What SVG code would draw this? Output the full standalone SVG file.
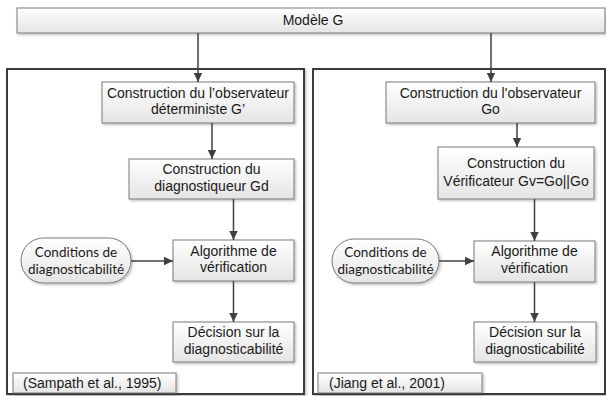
<svg xmlns="http://www.w3.org/2000/svg" width="606" height="396" viewBox="0 0 606 396">
<defs>
<linearGradient id="g" x1="0" y1="0" x2="0" y2="1">
<stop offset="0" stop-color="#ffffff"/>
<stop offset="1" stop-color="#e4e4e4"/>
</linearGradient>
<marker id="ah" markerWidth="10" markerHeight="10" refX="9" refY="5" orient="auto" markerUnits="userSpaceOnUse">
<path d="M0,0.8 L9,5 L0,9.2 Z" fill="#404040"/>
</marker>
<filter id="sh" x="-10%" y="-10%" width="130%" height="140%">
<feDropShadow dx="1.5" dy="1.5" stdDeviation="0.8" flood-color="#000" flood-opacity="0.25"/>
</filter>
</defs>
<style>
.box{fill:url(#g);stroke:#7a7a7a;stroke-width:1;filter:url(#sh)}
.panel{fill:#fff;stroke:#3a3a3a;stroke-width:2;filter:url(#sh)}
.t{font-family:"Liberation Sans",Arial,sans-serif;font-size:14px;fill:#1a1a1a;text-anchor:middle}
.tl{font-family:"Liberation Sans",Arial,sans-serif;font-size:14px;fill:#1a1a1a}
.c{font-family:Lato,"Open Sans",sans-serif;font-size:13.5px;fill:#1a1a1a;text-anchor:middle}
.conn line{stroke:#404040;stroke-width:1.5;marker-end:url(#ah)}
</style>
<g id="panel-left"><rect class="panel" x="7" y="69" width="297" height="325"/></g>
<g id="panel-right"><rect class="panel" x="313" y="69" width="292" height="325"/></g>
<g id="modele"><rect class="box" x="17" y="8" width="588" height="25"/><text class="t" x="313" y="25">Modèle G</text></g>

<g id="l1"><rect class="box" x="102" y="82" width="192" height="41"/><text class="t" x="198" y="97.5">Construction du l’observateur</text><text class="t" x="198" y="114">déterministe G’</text></g>
<g id="l2"><rect class="box" x="129" y="159" width="165" height="40"/><text class="t" x="211.5" y="174">Construction du</text><text class="t" x="211.5" y="191">diagnostiqueur Gd</text></g>
<g id="l3"><rect class="box" x="173" y="240" width="121" height="41"/><text class="t" x="233.5" y="255.5">Algorithme de</text><text class="t" x="233.5" y="272">vérification</text></g>
<g id="l4"><rect class="box" x="173" y="322" width="121" height="40"/><text class="t" x="233.5" y="337">Décision sur la</text><text class="t" x="233.5" y="354">diagnosticabilité</text></g>
<g id="lc"><rect class="box" x="21" y="238" width="110" height="45" rx="22.5"/><text class="c" x="76" y="256.5">Conditions de</text><text class="c" x="76" y="273.5">diagnosticabilité</text></g>
<g id="lref"><rect class="box" x="13" y="373" width="163" height="20"/><text class="tl" x="23" y="388">(Sampath et al., 1995)</text></g>

<g id="r1"><rect class="box" x="386" y="82" width="209" height="41"/><text class="t" x="490.5" y="97.5">Construction du l'observateur</text><text class="t" x="490.5" y="114">Go</text></g>
<g id="r2"><rect class="box" x="438" y="147" width="156" height="52"/><text class="t" x="516" y="168">Construction du</text><text class="t" x="516" y="186">Vérificateur Gv=Go||Go</text></g>
<g id="r3"><rect class="box" x="474" y="241" width="121" height="41"/><text class="t" x="534.5" y="256">Algorithme de</text><text class="t" x="534.5" y="272.5">vérification</text></g>
<g id="r4"><rect class="box" x="474" y="322" width="122" height="40"/><text class="t" x="535" y="337">Décision sur la</text><text class="t" x="535" y="354">diagnosticabilité</text></g>
<g id="rc"><rect class="box" x="332" y="239" width="107" height="44" rx="22"/><text class="c" x="385.5" y="257">Conditions de</text><text class="c" x="385.5" y="274">diagnosticabilité</text></g>
<g id="rref"><rect class="box" x="318" y="373" width="164" height="20"/><text class="tl" x="329" y="388">(Jiang et al., 2001)</text></g>

<g id="connectors" class="conn">
<line x1="198" y1="33" x2="198" y2="82"/>
<line x1="491" y1="33" x2="491" y2="82"/>
<line x1="212" y1="123" x2="212" y2="159"/>
<line x1="233.5" y1="199" x2="233.5" y2="240"/>
<line x1="233.5" y1="281" x2="233.5" y2="322"/>
<line x1="131" y1="261" x2="173" y2="261"/>
<line x1="517" y1="123" x2="517" y2="147"/>
<line x1="534.5" y1="199" x2="534.5" y2="241"/>
<line x1="534.5" y1="282" x2="534.5" y2="322"/>
<line x1="439" y1="261" x2="474" y2="261"/>
</g>
</svg>
